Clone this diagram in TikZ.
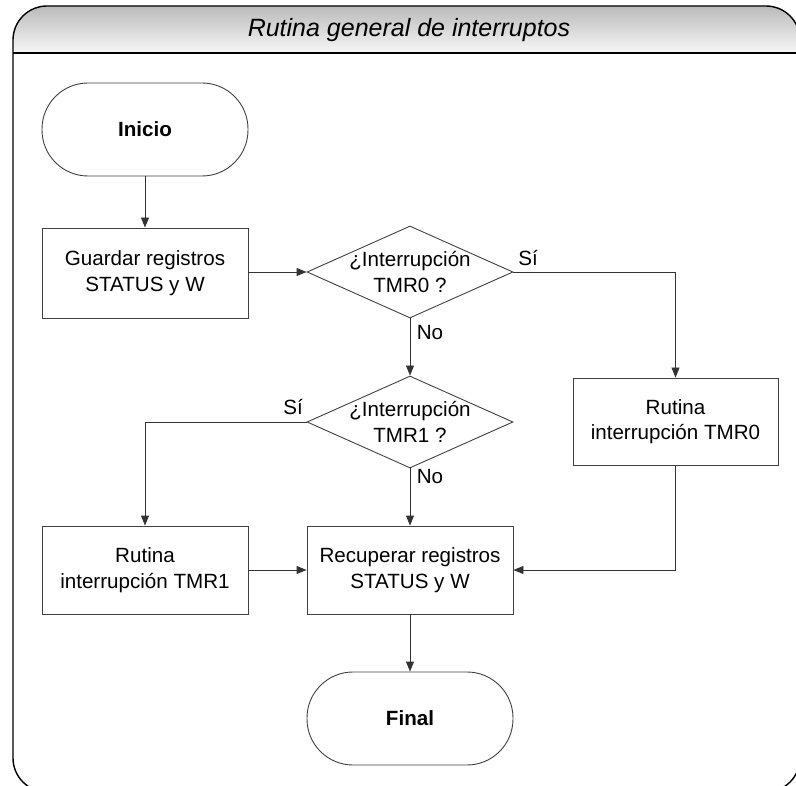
\documentclass[tikz,border=0pt]{standalone}
\usepackage{fontspec}
\setmainfont{Liberation Sans}
\usetikzlibrary{shapes.geometric,arrows.meta}
\begin{document}
\begin{tikzpicture}[x=1pt,y=-1pt,
  every node/.style={font=\fontsize{20.6}{25.5}\selectfont, text=black, inner sep=0pt},
  frameline/.style={draw=black, line width=1.4pt},
  procbox/.style={draw=black!75, line width=0.9pt, minimum width=206pt, align=center},
  terminal/.style={draw=black!75, line width=0.9pt, minimum width=206pt, minimum height=93pt,
    rounded corners=46pt, font=\fontsize{20.6}{25.5}\selectfont\bfseries},
  decision/.style={draw=black!75, line width=0.9pt, diamond, minimum width=206pt, minimum height=92pt},
  dtext/.style={align=center},
  flow/.style={draw=black!80, line width=0.9pt, -{Triangle[length=10pt,width=8pt]}},
  answer/.style={font=\fontsize{20.6}{25.5}\selectfont}]
\useasboundingbox (0,0) rectangle (796,786);

% outer frame with shaded title band
\begin{scope}
  \clip[rounded corners=34pt] (13,6) rectangle (800,792);
  \shade[top color=black!27, bottom color=black!3] (13,6) rectangle (800,53);
\end{scope}
\draw[frameline, rounded corners=34pt] (13,6) rectangle (800,792);
\draw[frameline] (13,53) -- (800,53);
\node[font=\fontsize{25}{30}\selectfont\itshape] (title) at (409,30) {Rutina general de interruptos};

% flowchart nodes
\node[terminal] (inicio) at (145,129.5) {Inicio};
\node[procbox, minimum height=90pt] (guardar) at (145,273) {Guardar registros\\STATUS y W};
\node[decision] (d0) at (410,272) {};
\node[dtext] (d0txt) at (410,272) {¿Interrupción\\TMR0 ?};
\node[decision] (d1) at (410,422) {};
\node[dtext] (d1txt) at (410,422) {¿Interrupción\\TMR1 ?};
\node[procbox, minimum height=87pt, minimum width=205pt] (rut0) at (675.5,421.5) {Rutina\\interrupción TMR0};
\node[procbox, minimum height=88pt] (rut1) at (145,570) {Rutina\\interrupción TMR1};
\node[procbox, minimum height=88pt] (recup) at (410,570) {Recuperar registros\\STATUS y W};
\node[terminal] (final) at (410,718.5) {Final};

% answer labels
\node[answer] (si0) at (528,258) {Sí};
\node[answer] (no0) at (430,333) {No};
\node[answer] (si1) at (293,407) {Sí};
\node[answer] (no1) at (430,477) {No};

% connectors
\draw[flow] (inicio) -- (guardar);
\draw[flow] (guardar.east |- d0.west) -- (d0.west);
\draw[flow] (d0.east) -| (rut0.north);
\draw[flow] (d0.south) -- (d1.north);
\draw[flow] (d1.west) -| (rut1.north);
\draw[flow] (d1.south) -- (recup.north);
\draw[flow] (rut1.east |- recup.west) -- (recup.west);
\draw[flow] (rut0.south) |- (recup.east);
\draw[flow] (recup) -- (final);
\end{tikzpicture}
\end{document}
